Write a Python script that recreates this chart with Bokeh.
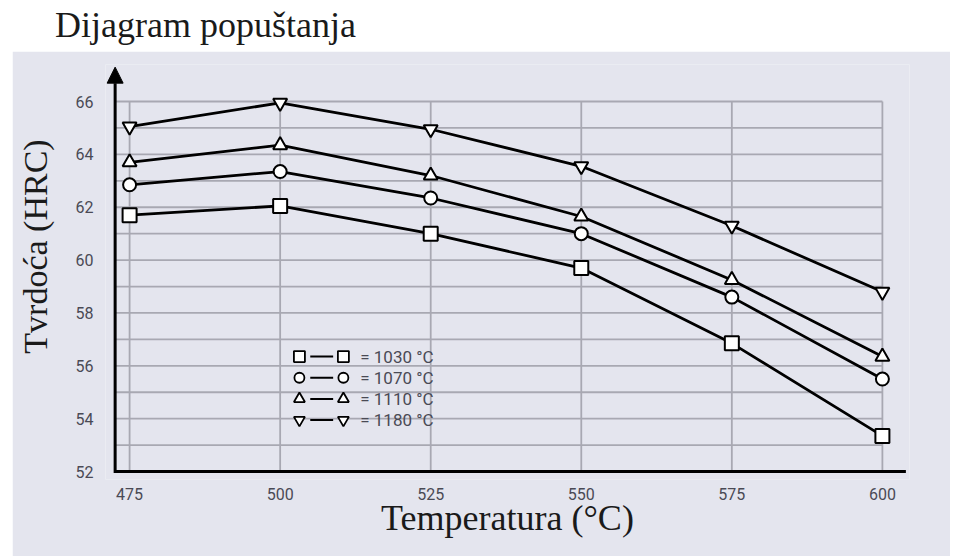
from bokeh.plotting import figure
from bokeh.models import Range1d, FixedTicker, Arrow, NormalHead, Div, ColumnDataSource
from bokeh.layouts import column
from bokeh.core.properties import value
from bokeh.embed import file_html
from bokeh.resources import INLINE

# ---- data ----
temperatures = [475, 500, 525, 550, 575, 600]
hrc_1030 = [61.7, 62.05, 61.0, 59.7, 56.85, 53.35]
hrc_1070 = [62.85, 63.35, 62.35, 61.0, 58.6, 55.5]
hrc_1110 = [63.7, 64.35, 63.2, 61.65, 59.25, 56.35]
hrc_1180 = [65.05, 65.95, 64.95, 63.55, 61.3, 58.8]
series_labels = ["= 1030 °C", "= 1070 °C", "= 1110 °C", "= 1180 °C"]
series_markers = ["square", "circle", "triangle", "inverted_triangle"]
x_ticks = [475, 500, 525, 550, 575, 600]
y_ticks = [52, 54, 56, 58, 60, 62, 64, 66]
y_grid = [53, 54, 55, 56, 57, 58, 59, 60, 61, 62, 63, 64, 65, 66]

title_text = "Dijagram popuštanja"
x_label = "Temperatura (°C)"
y_label = "Tvrdoća (HRC)"

BG = "#e4e5ee"
GRID = "#a8a8b2"
TICK_COL = "#4a4a55"
SERIF = "Liberation Serif"
SANS = "Roboto"

AX_X = 472.6      # where the drawn y-axis stands
AX_Y = 52.0       # where the drawn x-axis stands
X0, X1 = 471.0, 604.5
Y0, Y1 = 51.7, 67.4

title_div = Div(
    text=f'<div style="font-family:\'{SERIF}\',serif;font-size:36px;line-height:1;'
         f'padding-left:55px;padding-top:7px;color:#1a1a1a;white-space:nowrap;">{title_text}</div>',
    width=954, height=51, margin=(0, 0, 0, 0),
)

p = figure(width=938, height=505, output_backend="svg", toolbar_location=None,
           x_range=Range1d(X0, X1), y_range=Range1d(Y0, Y1),
           min_border_left=93, min_border_right=41, min_border_top=13,
           min_border_bottom=77, margin=(0, 0, 0, 12))
p.background_fill_color = BG
p.border_fill_color = BG
p.outline_line_color = None
p.xgrid.visible = False
p.ygrid.visible = False

# grid as bounded segments
p.segment(x0=[AX_X] * len(y_grid), y0=y_grid, x1=[600] * len(y_grid), y1=y_grid,
          line_color=GRID, line_width=1.8)
p.segment(x0=x_ticks, y0=[AX_Y] * len(x_ticks), x1=x_ticks, y1=[66] * len(x_ticks),
          line_color=GRID, line_width=1.8)

# axes (labels only; lines drawn below)
for ax in (p.xaxis[0], p.yaxis[0]):
    ax.axis_line_color = None
    ax.major_tick_line_color = None
    ax.minor_tick_line_color = None
    ax.major_tick_out = 0
    ax.major_tick_in = 0
    ax.major_label_text_font = SANS
    ax.major_label_text_font_size = "16px"
    ax.major_label_text_color = TICK_COL
    ax.axis_label_text_font = SERIF
    ax.axis_label_text_font_style = "normal"
    ax.axis_label_text_color = "#1a1a1a"

p.xaxis.ticker = FixedTicker(ticks=x_ticks)
p.yaxis.ticker = FixedTicker(ticks=y_ticks)
p.xaxis.major_label_standoff = 8
p.yaxis.major_label_standoff = 12
p.xaxis.axis_label = x_label
# non-breaking spaces lift the rotated label to where the reference shows it
p.yaxis.axis_label = "\u00a0" * 6 + y_label
p.xaxis.axis_label_text_font_size = "36px"
p.yaxis.axis_label_text_font_size = "34px"
p.xaxis.axis_label_standoff = -5
p.yaxis.axis_label_standoff = 19

# drawn axis lines: x-axis and y-axis with arrow head
p.segment(x0=[AX_X], y0=[AX_Y], x1=[603.9], y1=[AX_Y], line_color="black", line_width=3)
p.add_layout(Arrow(end=NormalHead(size=16, fill_color="black", line_color="black"),
                   x_start=AX_X, y_start=AX_Y - 0.05, x_end=AX_X, y_end=67.3,
                   line_color="black", line_width=3))

# series
all_series = [hrc_1030, hrc_1070, hrc_1110, hrc_1180]
sizes = {"square": 14, "circle": 13, "triangle": 14, "inverted_triangle": 14}
for vals, mk in zip(all_series, series_markers):
    src = ColumnDataSource(dict(x=temperatures, y=vals))
    p.line("x", "y", source=src, line_color="black", line_width=2.8)
    p.scatter("x", "y", source=src, marker=mk, size=sizes[mk],
              fill_color="white", line_color="black", line_width=2)

# hand-drawn legend (marker — marker = label)
leg_y0, leg_step = 56.35, 0.8
for i, (mk, lab) in enumerate(zip(series_markers, series_labels)):
    yy = leg_y0 - i * leg_step
    p.segment(x0=[505.0], y0=[yy], x1=[508.8], y1=[yy], line_color="black", line_width=2)
    p.scatter(x=[503.2, 510.5], y=[yy, yy], marker=mk, size=sizes[mk] - 3,
              fill_color="white", line_color="black", line_width=1.8)
    p.text(x=[513.3], y=[yy], text=[lab], text_baseline="middle", text_align="left",
           text_font=value(SANS), text_font_size="17px", text_color=TICK_COL)

layout = column(title_div, p, spacing=0)
open("out.html", "w").write(file_html(layout, INLINE))
